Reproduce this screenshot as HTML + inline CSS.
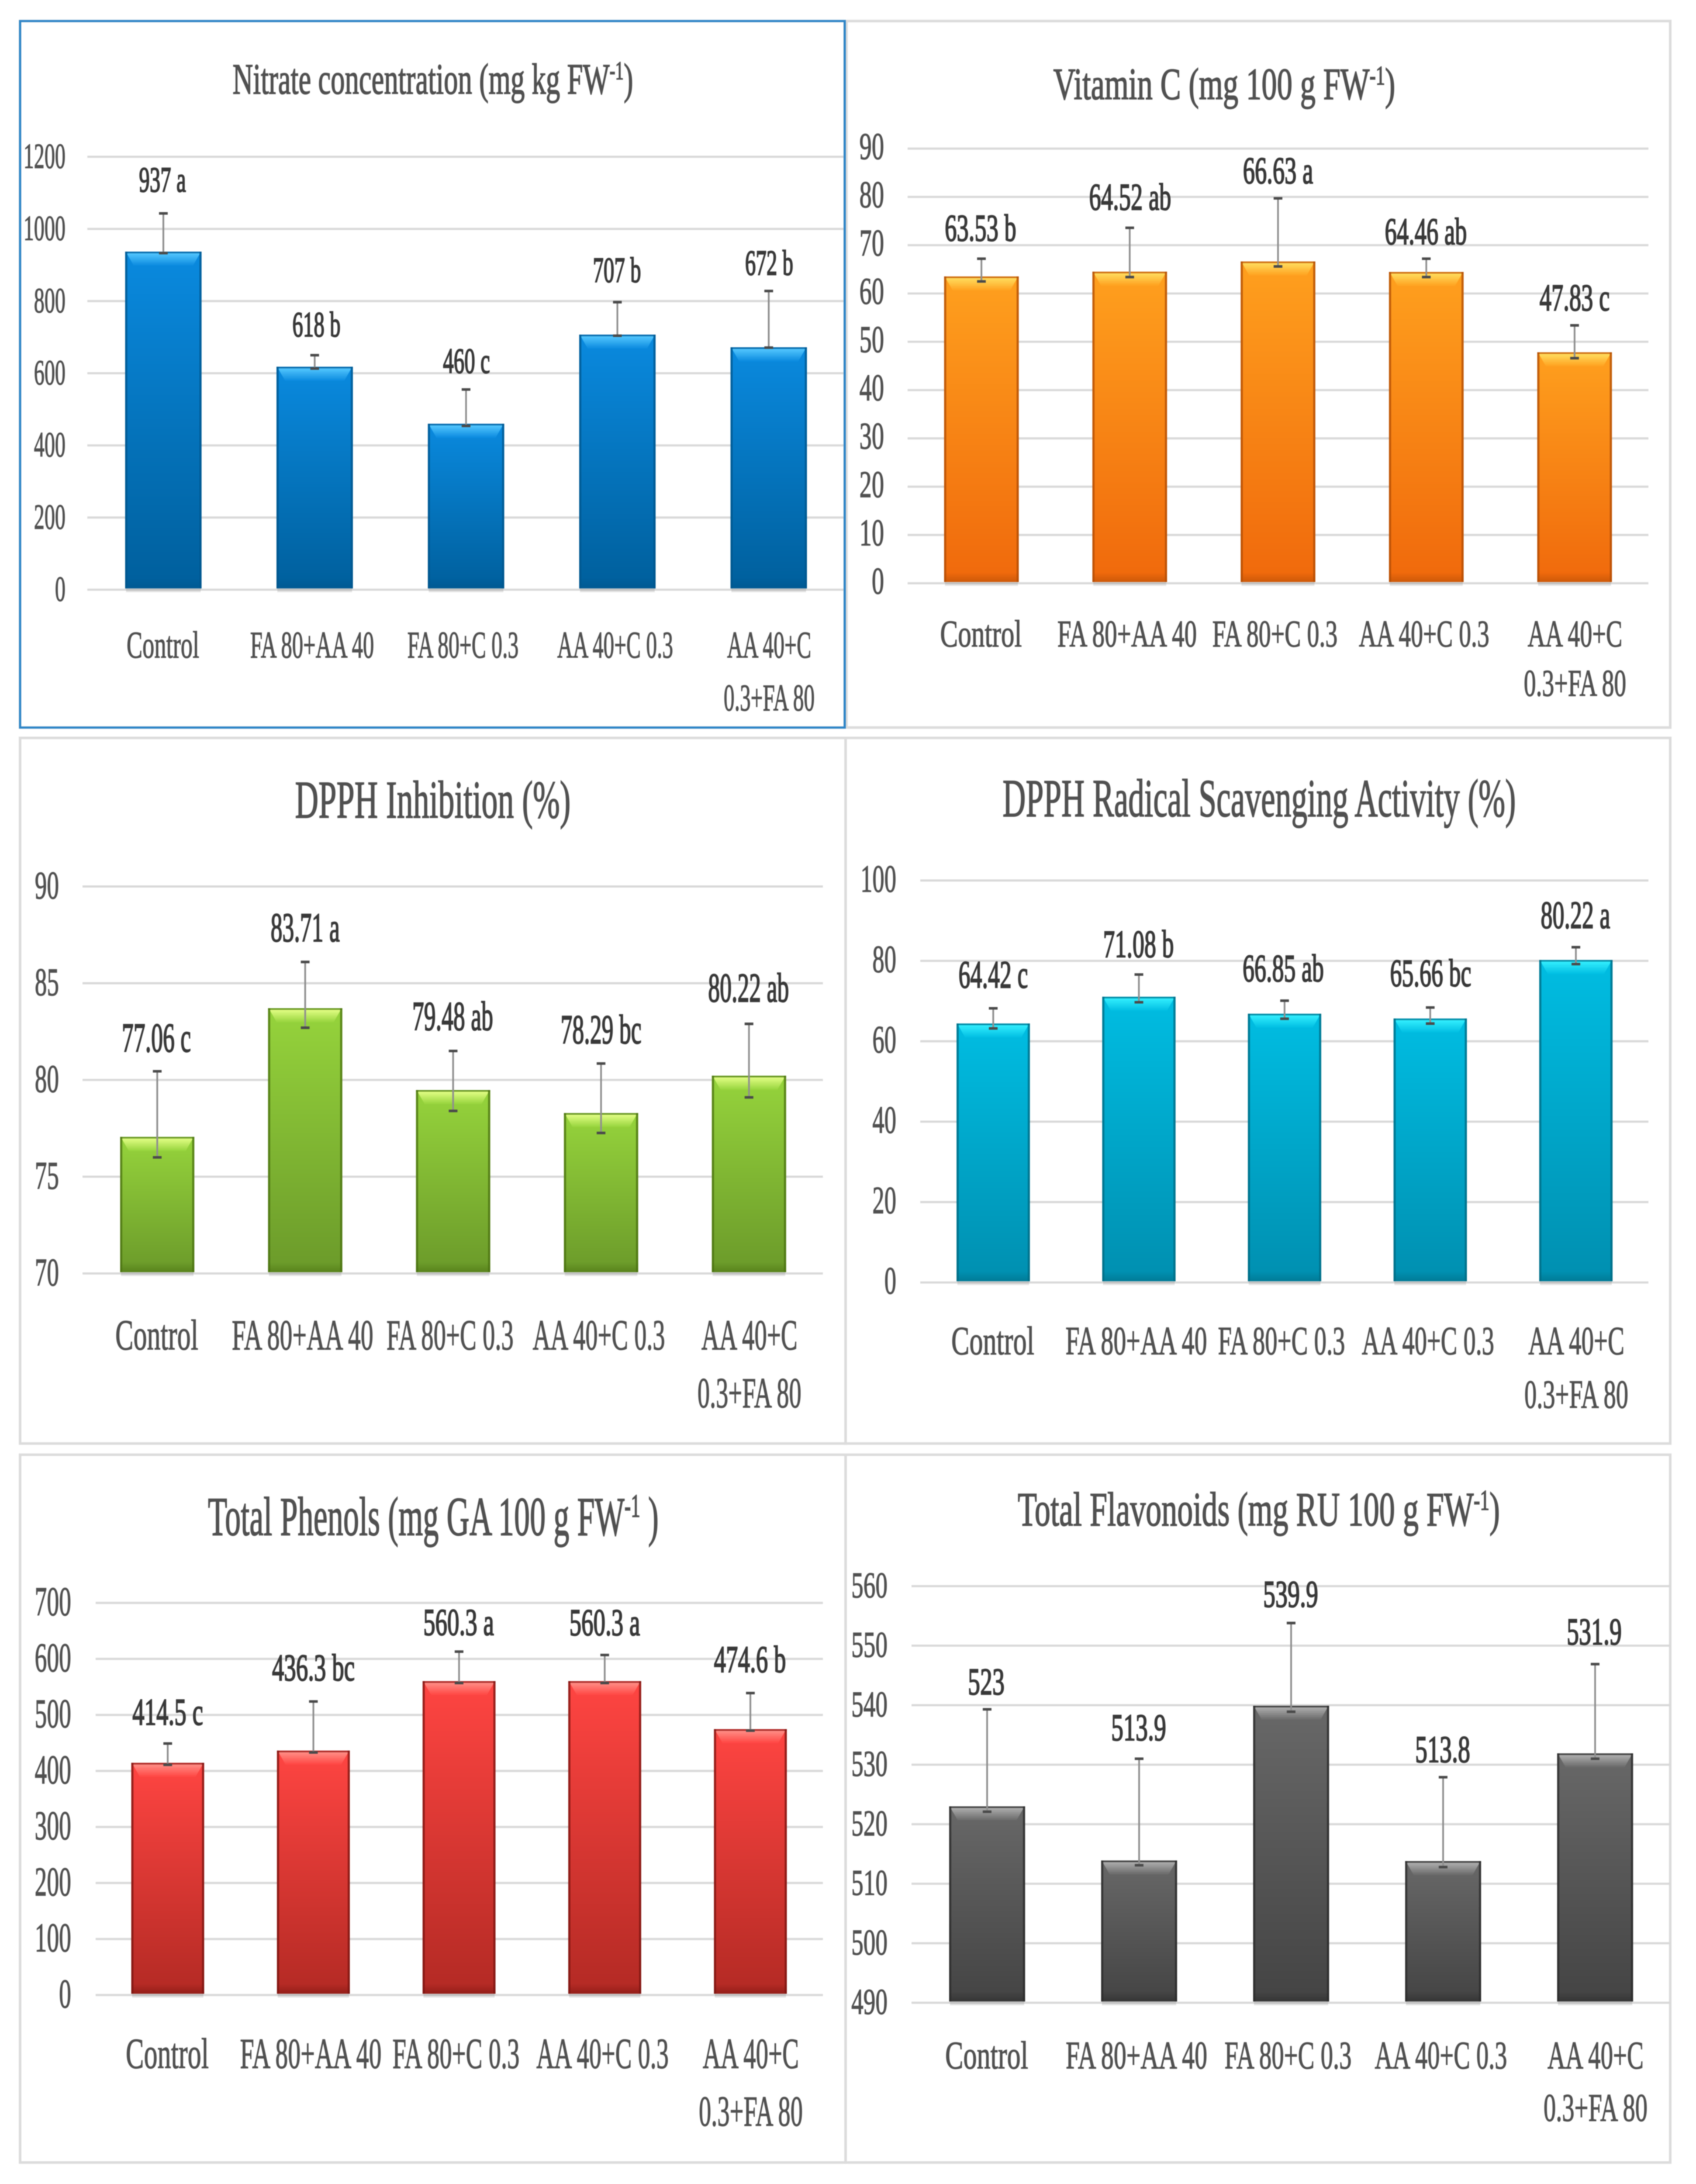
<!DOCTYPE html>
<html lang="en">
<head>
<meta charset="utf-8">
<title>Six bar charts: nitrate, vitamin C, DPPH, phenols, flavonoids</title>
<style>
  html, body { margin: 0; padding: 0; background: #ffffff; width: 100%; height: 100%; overflow: hidden; }
  svg { display: block; position: fixed; left: 0; top: 0; width: 100vw; height: 100vh; overflow: hidden; }
  #plot { filter: blur(1px); }
  text { font-family: "Liberation Serif", "DejaVu Serif", serif; text-anchor: middle; }
</style>
</head>
<body>
<svg id="figure" xmlns="http://www.w3.org/2000/svg" viewBox="0 0 3883 5085" preserveAspectRatio="none">
  <defs id="defs"></defs>
  <g id="plot"></g>
</svg>
<script>
/* ---------- shared data ---------- */
const categories = [["Control"], ["FA 80+AA 40"], ["FA 80+C 0.3"], ["AA 40+C 0.3"], ["AA 40+C", "0.3+FA 80"]];

/* ---------- nitrate ---------- */
const nitrateTicks = [0, 200, 400, 600, 800, 1000, 1200];
const nitrateValues = [937, 618, 460, 707, 672];
const nitrateUpper = [1043, 650, 555, 797, 828];
const nitrateLower = [933, 613, 454, 704, 671];
const nitrateLabels = ["937 a", "618 b", "460 c", "707 b", "672 b"];

/* ---------- vitamin C ---------- */
const vitaminTicks = [0, 10, 20, 30, 40, 50, 60, 70, 80, 90];
const vitaminValues = [63.53, 64.52, 66.63, 64.46, 47.83];
const vitaminUpper = [67.2, 73.6, 79.7, 67.2, 53.4];
const vitaminLower = [62.5, 63.4, 65.6, 63.4, 46.6];
const vitaminLabels = ["63.53 b", "64.52 ab", "66.63 a", "64.46 ab", "47.83 c"];

/* ---------- DPPH inhibition ---------- */
const inhibitionTicks = [70, 75, 80, 85, 90];
const inhibitionValues = [77.06, 83.71, 79.48, 78.29, 80.22];
const inhibitionUpper = [80.45, 86.1, 81.5, 80.85, 82.9];
const inhibitionLower = [76.0, 82.7, 78.4, 77.26, 79.1];
const inhibitionLabels = ["77.06 c", "83.71 a", "79.48 ab", "78.29 bc", "80.22 ab"];

/* ---------- DPPH radical scavenging ---------- */
const scavengingTicks = [0, 20, 40, 60, 80, 100];
const scavengingValues = [64.42, 71.08, 66.85, 65.66, 80.22];
const scavengingUpper = [68.2, 76.6, 70.1, 68.4, 83.4];
const scavengingLower = [63.2, 69.7, 65.6, 64.4, 79.2];
const scavengingLabels = ["64.42 c", "71.08 b", "66.85 ab", "65.66 bc", "80.22 a"];

/* ---------- total phenols ---------- */
const phenolsTicks = [0, 100, 200, 300, 400, 500, 600, 700];
const phenolsValues = [414.5, 436.3, 560.3, 560.3, 474.6];
const phenolsUpper = [449, 524, 613, 607, 539];
const phenolsLower = [411, 433, 557, 557, 472];
const phenolsLabels = ["414.5 c", "436.3 bc", "560.3 a", "560.3 a", "474.6 b"];

/* ---------- total flavonoids ---------- */
const flavonoidsTicks = [490, 500, 510, 520, 530, 540, 550, 560];
const flavonoidsValues = [523, 513.9, 539.9, 513.8, 531.9];
const flavonoidsUpper = [539.3, 531, 553.8, 527.9, 546.9];
const flavonoidsLower = [522.1, 513.1, 538.9, 512.8, 531];
const flavonoidsLabels = ["523", "513.9", "539.9", "513.8", "531.9"];

/* ---------- styling and layout (not data) ---------- */
const palette = {
  blue:   { top: "#0a8adf", bottom: "#005f9c", bevel: "#55c8ff", edge: "#00558c" },
  orange: { top: "#ffa01e", bottom: "#f0690c", bevel: "#ffdf60", edge: "#b04c06" },
  green:  { top: "#96d43c", bottom: "#6b9a2a", bevel: "#e4ff86", edge: "#4a7010" },
  cyan:   { top: "#00bde2", bottom: "#008fb0", bevel: "#34f0ff", edge: "#006a82" },
  red:    { top: "#ff4542", bottom: "#b32a24", bevel: "#ff9088", edge: "#7a1410" },
  gray:   { top: "#686868", bottom: "#444444", bevel: "#b0b0b0", edge: "#2a2a2a" }
};
const catDx = [-1, -6, -7, -5, 1];
const catBaseWidths = [190, 324, 291, 303, 220, 238];

const charts = [
  { id: "nitrate", color: "blue", pre: "Nitrate concentration (mg kg FW", sup: "-1", post: ")",
    ticks: nitrateTicks, values: nitrateValues, upper: nitrateUpper, lower: nitrateLower, labels: nitrateLabels,
    box: [46, 49, 1934, 1694], titleX: 991, titleY: 218, titleW: 917, titleSize: 101,
    gridL: 200, gridR: 1934, yMin: 0, yMax: 1200, yBottom: 1373, yTop: 365,
    x0: 374, step: 346.5, barW: 175,
    gaps: [51, 44, 39, 47, 38], labelDx: [-2, 4, 1, -1, 1], labelSize: 83, labelSx: 0.59,
    tickRight: 150, tickDy: 26, tickSize: 83, tickSx: 0.58,
    catY: [1531, 1654], catSize: 88, catScale: 0.875 },
  { id: "vitamin-c", color: "orange", pre: "Vitamin C (mg 100 g FW", sup: "-1", post: ")",
    ticks: vitaminTicks, values: vitaminValues, upper: vitaminUpper, lower: vitaminLower, labels: vitaminLabels,
    box: [1938, 49, 3824, 1694], titleX: 2803, titleY: 231, titleW: 783, titleSize: 104,
    gridL: 2078, gridR: 3774, yMin: 0, yMax: 90, yBottom: 1358, yTop: 346,
    x0: 2247, step: 339.5, barW: 171,
    gaps: [42, 42, 35, 34, 35], labelDx: [-2, 1, 0, -1, 0], labelSize: 88, labelSx: 0.62,
    tickRight: 2024, tickDy: 24, tickSize: 88, tickSx: 0.64,
    catY: [1505, 1620], catSize: 88, catScale: 0.985 },
  { id: "dpph-inhibition", color: "green", pre: "DPPH Inhibition (%)", sup: "", post: "",
    ticks: inhibitionTicks, values: inhibitionValues, upper: inhibitionUpper, lower: inhibitionLower, labels: inhibitionLabels,
    box: [46, 1718, 1936, 3361], titleX: 991, titleY: 1904, titleW: 631, titleSize: 124,
    gridL: 189, gridR: 1884, yMin: 70, yMax: 90, yBottom: 2965, yTop: 2064,
    x0: 360, step: 338.7, barW: 170,
    gaps: [46, 48, 49, 47, 52], labelDx: [-2, 0, -1, 0, -1], labelSize: 96, labelSx: 0.56,
    tickRight: 135, tickDy: 28, tickSize: 92, tickSx: 0.6,
    catY: [3142, 3277], catSize: 100, catScale: 1 },
  { id: "dpph-scavenging", color: "cyan", pre: "DPPH Radical Scavenging Activity (%)", sup: "", post: "",
    ticks: scavengingTicks, values: scavengingValues, upper: scavengingUpper, lower: scavengingLower, labels: scavengingLabels,
    box: [1936, 1718, 3824, 3361], titleX: 2883, titleY: 1901, titleW: 1175, titleSize: 125,
    gridL: 2107, gridR: 3774, yMin: 0, yMax: 100, yBottom: 2986, yTop: 2050,
    x0: 2274, step: 333.5, barW: 168,
    gaps: [48, 41, 45, 50, 45], labelDx: [0, -1, -3, 1, -1], labelSize: 90, labelSx: 0.6,
    tickRight: 2052, tickDy: 26, tickSize: 91, tickSx: 0.6,
    catY: [3153, 3278], catSize: 94, catScale: 1 },
  { id: "total-phenols", color: "red", pre: "Total Phenols (mg GA 100 g FW", sup: "-1", post: " )",
    ticks: phenolsTicks, values: phenolsValues, upper: phenolsUpper, lower: phenolsLower, labels: phenolsLabels,
    box: [46, 3387, 1936, 5035], titleX: 992, titleY: 3574, titleW: 1032, titleSize: 128,
    gridL: 219, gridR: 1884, yMin: 0, yMax: 700, yBottom: 4645, yTop: 3732,
    x0: 384, step: 333.5, barW: 167,
    gaps: [44, 49, 39, 46, 49], labelDx: [0, 0, -1, 0, -1], labelSize: 88, labelSx: 0.625,
    tickRight: 163, tickDy: 29, tickSize: 96, tickSx: 0.58,
    catY: [4815, 4949], catSize: 100, catScale: 1 },
  { id: "total-flavonoids", color: "gray", pre: "Total Flavonoids (mg RU 100 g FW", sup: "-1", post: ")",
    ticks: flavonoidsTicks, values: flavonoidsValues, upper: flavonoidsUpper, lower: flavonoidsLower, labels: flavonoidsLabels,
    box: [1936, 3387, 3824, 5035], titleX: 2882, titleY: 3552, titleW: 1104, titleSize: 112,
    gridL: 2087, gridR: 3824, yMin: 490, yMax: 560, yBottom: 4663, yTop: 3693,
    x0: 2260, step: 348, barW: 174,
    gaps: [35, 43, 38, 35, 46], labelDx: [-2, -1, -1, -1, -2], labelSize: 88, labelSx: 0.636,
    tickRight: 2032, tickDy: 26, tickSize: 85, tickSx: 0.65,
    catY: [4816, 4938], catSize: 92, catScale: 1 }
];

/* ---------- helpers ---------- */
const NS = "http://www.w3.org/2000/svg";
const plot = document.getElementById("plot");
const defs = document.getElementById("defs");

function make(tag, attrs, parent) {
  const el = document.createElementNS(NS, tag);
  for (const k in attrs) el.setAttribute(k, attrs[k]);
  if (parent) parent.appendChild(el);
  return el;
}

function addGradient(id, stops) {
  const g = make("linearGradient", { id: id, x1: 0, y1: 0, x2: 0, y2: 1 }, defs);
  stops.forEach(function (s) {
    make("stop", { offset: s[0], "stop-color": s[1] }, g);
  });
}

for (const name in palette) {
  const p = palette[name];
  addGradient("body-" + name, [[0, p.top], [1, p.bottom]]);
  addGradient("bevel-" + name, [[0, p.bevel], [1, p.top]]);
  addGradient("foot-" + name, [[0, p.bottom], [1, p.edge]]);
}

function placeText(el, x, y, sx) {
  el.setAttribute("transform", "translate(" + x + "," + y + ") scale(" + sx + ",1)");
}

function fitText(el, x, y, width) {
  const natural = el.getComputedTextLength();
  placeText(el, x, y, width / natural);
}

/* ---------- draw ---------- */
charts.forEach(function (c) {
  const group = make("g", {}, plot);
  
  

  const yScale = function (v) {
    return c.yBottom + (v - c.yMin) / (c.yMax - c.yMin) * (c.yTop - c.yBottom);
  };
  const xScale = function (i) {
    return c.x0 + i * c.step;
  };

  /* panel */
  const panel = make("rect", {
    x: c.box[0], y: c.box[1], width: c.box[2] - c.box[0], height: c.box[3] - c.box[1],
    fill: "#ffffff", stroke: "#dcdcdc", "stroke-width": 6
  }, group);
  
  

  /* title */
  const title = make("text", { "font-size": c.titleSize, fill: "#505050", stroke: "#505050", "stroke-width": 2 }, group);
  
  
  title.appendChild(document.createTextNode(c.pre));
  if (c.sup) {
    const s = make("tspan", { "font-size": c.titleSize * 0.6, dy: -c.titleSize * 0.33 }, title);
    s.textContent = c.sup;
    const t = make("tspan", { dy: c.titleSize * 0.33 }, title);
    t.textContent = c.post;
  }
  fitText(title, c.titleX, c.titleY, c.titleW);

  /* y axis grid + ticks */
  c.ticks.forEach(function (tick) {
    const y = yScale(tick);
    const line = make("line", { x1: c.gridL, x2: c.gridR, y1: y, y2: y, stroke: "#d9d9d9", "stroke-width": 5 }, group);
    
    

    const label = make("text", { "font-size": c.tickSize, fill: "#505050", stroke: "#505050", "stroke-width": 1.5, style: "text-anchor:end" }, group);
    
    
    label.textContent = String(tick);
    placeText(label, c.tickRight, y + c.tickDy, c.tickSx);
  });

  /* bars */
  const pal = palette[c.color];
  c.values.forEach(function (v, i) {
    const cx = xScale(i);
    const w = c.barW;
    const x = cx - w / 2;
    const top = yScale(v);
    const bottom = c.yBottom - 3;
    const h = bottom - top;

    const bar = make("g", {}, group);
    
    

    make("rect", { x: cx - w / 2 + 2, y: bottom, width: w - 4, height: 9, fill: "#000000", opacity: 0.1 }, bar);
    make("rect", { x: x, y: top, width: w, height: h, fill: "url(#body-" + c.color + ")" }, bar);
    make("polygon", {
      points: (x + 3) + "," + (top + 3) + " " + (x + w - 3) + "," + (top + 3) + " " +
              (x + w - 20) + "," + (top + 33) + " " + (x + 20) + "," + (top + 33),
      fill: "url(#bevel-" + c.color + ")"
    }, bar);
    make("rect", { x: x, y: bottom - 22, width: w, height: 22, fill: "url(#foot-" + c.color + ")", opacity: 0.55 }, bar);
    make("rect", { x: x, y: top, width: 5, height: h, fill: pal.edge, opacity: 0.75 }, bar);
    make("rect", { x: x + w - 5, y: top, width: 5, height: h, fill: pal.edge, opacity: 0.75 }, bar);
    make("rect", { x: x, y: top, width: w, height: 4, fill: pal.edge, opacity: 0.6 }, bar);
  });

  /* error bars */
  c.values.forEach(function (v, i) {
    const cx = xScale(i);
    const hi = yScale(c.upper[i]);
    const lo = yScale(c.lower[i]);

    const err = make("g", {}, group);
    
    

    make("line", { x1: cx, x2: cx, y1: hi, y2: lo, stroke: "#8f8f8f", "stroke-width": 4 }, err);
    make("line", { x1: cx - 10, x2: cx + 10, y1: hi, y2: hi, stroke: "#4a4a4a", "stroke-width": 6 }, err);
    make("line", { x1: cx - 10, x2: cx + 10, y1: lo, y2: lo, stroke: "#4a4a4a", "stroke-width": 6 }, err);
  });

  /* value labels */
  c.labels.forEach(function (txt, i) {
    const el = make("text", { "font-size": c.labelSize, fill: "#383838", stroke: "#383838", "stroke-width": 2.5 }, group);
    
    
    el.textContent = txt;
    placeText(el, xScale(i) + c.labelDx[i], yScale(c.upper[i]) - c.gaps[i], c.labelSx);
  });

  /* category labels */
  categories.forEach(function (lines, i) {
    lines.forEach(function (line, j) {
      const el = make("text", { "font-size": c.catSize, fill: "#505050", stroke: "#505050", "stroke-width": 1.5 }, group);
      
      
      el.textContent = line;
      const width = catBaseWidths[i + j] * c.catScale;
      fitText(el, xScale(i) + catDx[i], c.catY[j], width);
    });
  });
});

/* highlighted border of the first panel, drawn last so it sits on top */
const nitrateBox = charts[0].box;
const selection = make("rect", {
  x: nitrateBox[0], y: nitrateBox[1],
  width: nitrateBox[2] - nitrateBox[0], height: nitrateBox[3] - nitrateBox[1],
  fill: "none", stroke: "#2f86c8", "stroke-width": 5
}, plot);


</script>
</body>
</html>
